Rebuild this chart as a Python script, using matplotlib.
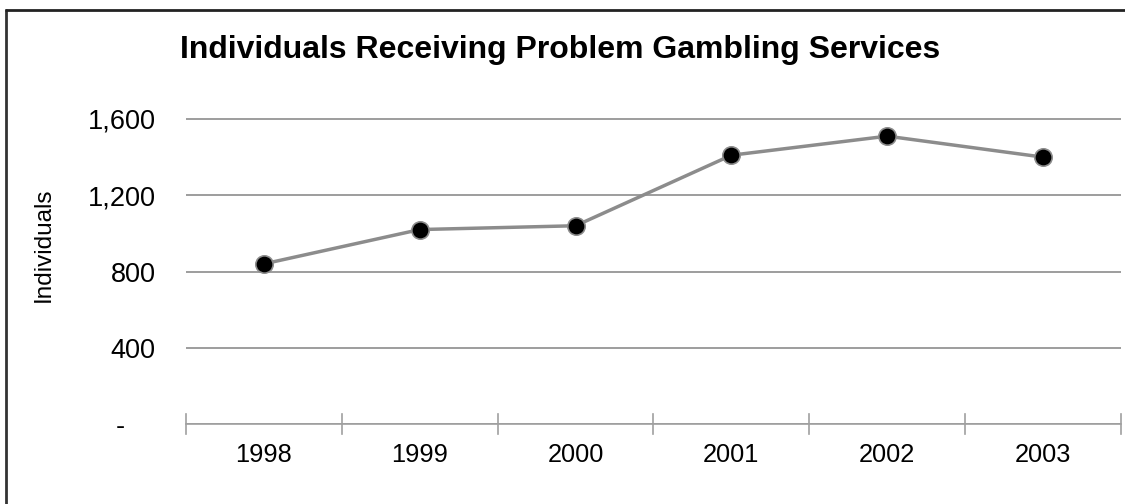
import matplotlib.pyplot as plt
from matplotlib.lines import Line2D
from matplotlib.ticker import FuncFormatter

plt.rcParams['font.family'] = ['Liberation Sans', 'DejaVu Sans']

years = ['1998', '1999', '2000', '2001', '2002', '2003']
individuals = [840, 1020, 1040, 1410, 1510, 1400]
yticks = [0, 400, 800, 1200, 1600]

fig = plt.figure(figsize=(11.25, 5.04), dpi=100)
ax = fig.add_axes([186 / 1125, 80 / 504, (1121 - 186) / 1125, (424 - 80) / 504])

x = list(range(len(years)))
ax.plot(x, individuals, color='#8c8c8c', lw=2.5, marker='o', ms=12.5,
        mfc='black', mec='#8c8c8c', mew=1.2, zorder=3)

ax.set_xlim(-0.5, len(years) - 0.5)
ax.set_ylim(0, 1600 * (424 - 80) / (424 - 119))
ax.set_yticks(yticks)
ax.yaxis.set_major_formatter(FuncFormatter(lambda v, p: '-    ' if v == 0 else f'{int(v):,}'))
ax.set_xticks(x)
ax.set_xticklabels(years)
ax.tick_params(axis='x', length=0, labelsize=18.3, pad=14)
ax.tick_params(axis='y', length=0, labelsize=19.5, pad=22)

ax.grid(axis='y', color='#8c8c8c', lw=1.2)
for s in ['top', 'right', 'left']:
    ax.spines[s].set_visible(False)
ax.spines['bottom'].set_color('#a0a0a0')
ax.spines['bottom'].set_linewidth(1.2)
ax.set_axisbelow(True)

# category separator ticks on the x axis
for b in [i - 0.5 for i in range(len(years) + 1)]:
    ax.plot([b, b], [-0.03, 0.03], transform=ax.get_xaxis_transform(),
            color='#a0a0a0', lw=1.2, clip_on=False)

fig.text(44 / 1125, 1 - 245 / 504, 'Individuals', rotation=90,
         ha='center', va='center', fontsize=17.5)
fig.text(560 / 1125, 1 - 50 / 504, 'Individuals Receiving Problem Gambling Services',
         ha='center', va='center', fontsize=23, fontweight='bold')

# outer frame (left and top edges visible)
fig.add_artist(Line2D([6 / 1125, 6 / 1125], [0, 1 - 9 / 504], color='#333333',
                      lw=2, solid_capstyle='butt'))
fig.add_artist(Line2D([5 / 1125, 1.0], [1 - 9.5 / 504, 1 - 9.5 / 504], color='#222222',
                      lw=2, solid_capstyle='butt'))

fig.savefig('out.png', dpi=100)
